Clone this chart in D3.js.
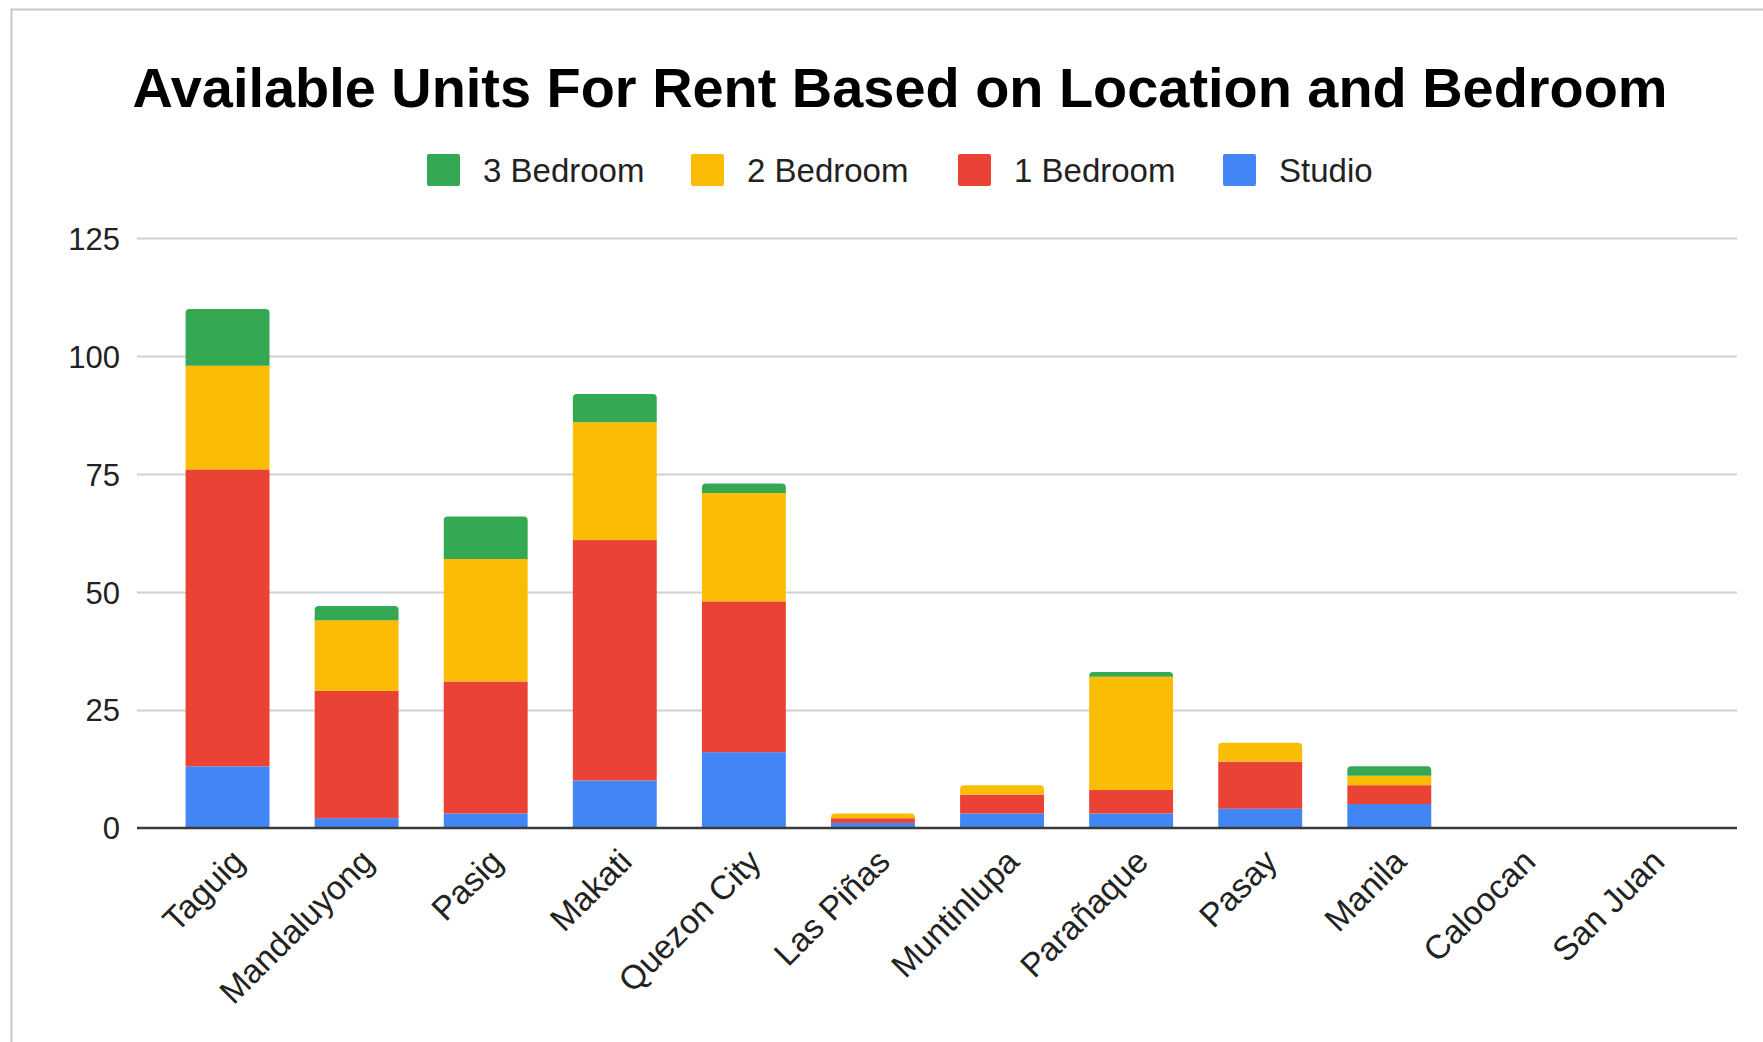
<!DOCTYPE html>
<html>
<head>
<meta charset="utf-8">
<script src="https://cdn.jsdelivr.net/npm/d3@7"></script>
<style>
  html, body { margin: 0; padding: 0; background: #fff; }
  svg { display: block; }
</style>
</head>
<body>
<svg id="chart" width="1763" height="1042"></svg>
<script>
const categories = ["Taguig","Mandaluyong","Pasig","Makati","Quezon City","Las Piñas","Muntinlupa","Parañaque","Pasay","Manila","Caloocan","San Juan"];
const studio   = [13, 2, 3, 10, 16, 1, 3, 3, 4, 5, 0, 0];
const bed1     = [63, 27, 28, 51, 32, 1, 4, 5, 10, 4, 0, 0];
const bed2     = [22, 15, 26, 25, 23, 1, 2, 24, 4, 2, 0, 0];
const bed3     = [12, 3, 9, 6, 2, 0, 0, 1, 0, 2, 0, 0];
const seriesNames = ["Studio", "1 Bedroom", "2 Bedroom", "3 Bedroom"];
const seriesColors = ["#4285F4", "#EA4335", "#FBBC04", "#34A853"];
const yTicks = [0, 25, 50, 75, 100, 125];
const title = "Available Units For Rent Based on Location and Bedroom";

const svg = d3.select("#chart");
const FONT = "'Liberation Sans', Arial, sans-serif";

// outer border
svg.append("rect").attr("x", 11.5).attr("y", 9.5).attr("width", 1800).attr("height", 1100)
  .attr("fill", "#fff").attr("stroke", "#c8c8c8").attr("stroke-width", 2);

const table = categories.map((c, i) => ({
  cat: c, "Studio": studio[i], "1 Bedroom": bed1[i], "2 Bedroom": bed2[i], "3 Bedroom": bed3[i]
}));
const stacked = d3.stack().keys(seriesNames)(table);

const x = d3.scaleBand().domain(categories).range([163, 1712]).paddingInner(0.35).paddingOuter(0.175);
const y = d3.scaleLinear().domain([0, 125]).range([827.6, 238.4]);
const gridX0 = 137, gridX1 = 1737;

// title
svg.append("text").attr("x", 900).attr("y", 107).attr("text-anchor", "middle")
  .attr("font-family", FONT).attr("font-weight", "bold").attr("font-size", 55.9)
  .attr("fill", "#000").text(title);

// legend (order: 3 Bedroom, 2 Bedroom, 1 Bedroom, Studio)
const legendItems = [
  {name: "3 Bedroom", x: 427, color: seriesColors[3]},
  {name: "2 Bedroom", x: 691, color: seriesColors[2]},
  {name: "1 Bedroom", x: 958, color: seriesColors[1]},
  {name: "Studio",    x: 1223, color: seriesColors[0]}
];
const lg = svg.append("g");
legendItems.forEach(d => {
  lg.append("rect").attr("x", d.x).attr("y", 154).attr("width", 33).attr("height", 32)
    .attr("rx", 2).attr("fill", d.color);
  lg.append("text").attr("x", d.x + 56).attr("y", 181.5)
    .attr("font-family", FONT).attr("font-size", 33).attr("fill", "#222").text(d.name);
});

// gridlines
const grid = svg.append("g");
yTicks.filter(t => t !== 0).forEach(t => {
  grid.append("line").attr("x1", gridX0).attr("x2", gridX1)
    .attr("y1", Math.round(y(t)) + 0.5).attr("y2", Math.round(y(t)) + 0.5)
    .attr("stroke", "#d0d0d0").attr("stroke-width", 2);
});

// y axis labels
const yAxis = d3.axisLeft(y).tickValues(yTicks).tickSize(0).tickPadding(0);
const ya = svg.append("g").attr("transform", "translate(120,0)").call(yAxis);
ya.select(".domain").remove();
ya.selectAll("text").attr("font-family", FONT).attr("font-size", 31).attr("fill", "#222")
  .attr("dy", "0.36em");

// bars
function topRounded(x0, y0, w, h, r) {
  r = Math.min(r, h, w / 2);
  return `M${x0},${y0 + h}V${y0 + r}Q${x0},${y0} ${x0 + r},${y0}H${x0 + w - r}Q${x0 + w},${y0} ${x0 + w},${y0 + r}V${y0 + h}Z`;
}
const topIndex = categories.map((c, i) => {
  let t = -1;
  stacked.forEach((s, k) => { if (s[i][1] > s[i][0]) t = k; });
  return t;
});
const bars = svg.append("g");
stacked.forEach((s, k) => {
  s.forEach((d, i) => {
    const h = y(d[0]) - y(d[1]);
    if (h <= 0) return;
    if (topIndex[i] === k) {
      bars.append("path").attr("d", topRounded(x(categories[i]), y(d[1]), x.bandwidth(), h, 4))
        .attr("fill", seriesColors[k]);
    } else {
      bars.append("rect").attr("x", x(categories[i])).attr("y", y(d[1]))
        .attr("width", x.bandwidth()).attr("height", h).attr("fill", seriesColors[k]);
    }
  });
});

// baseline
svg.append("line").attr("x1", gridX0).attr("x2", gridX1)
  .attr("y1", y(0) + 0.5).attr("y2", y(0) + 0.5).attr("stroke", "#3a3a3a").attr("stroke-width", 2.5);

// x axis labels
const xAxis = d3.axisBottom(x).tickSize(0).tickPadding(0);
const xa = svg.append("g").attr("transform", `translate(0,${y(0)})`).call(xAxis);
xa.select(".domain").remove();
xa.selectAll("text")
  .attr("font-family", FONT).attr("font-size", 33.5).attr("fill", "#222")
  .attr("text-anchor", "end").attr("dy", null).attr("y", null)
  .attr("transform", "translate(19,36) rotate(-45)");
</script>
</body>
</html>
